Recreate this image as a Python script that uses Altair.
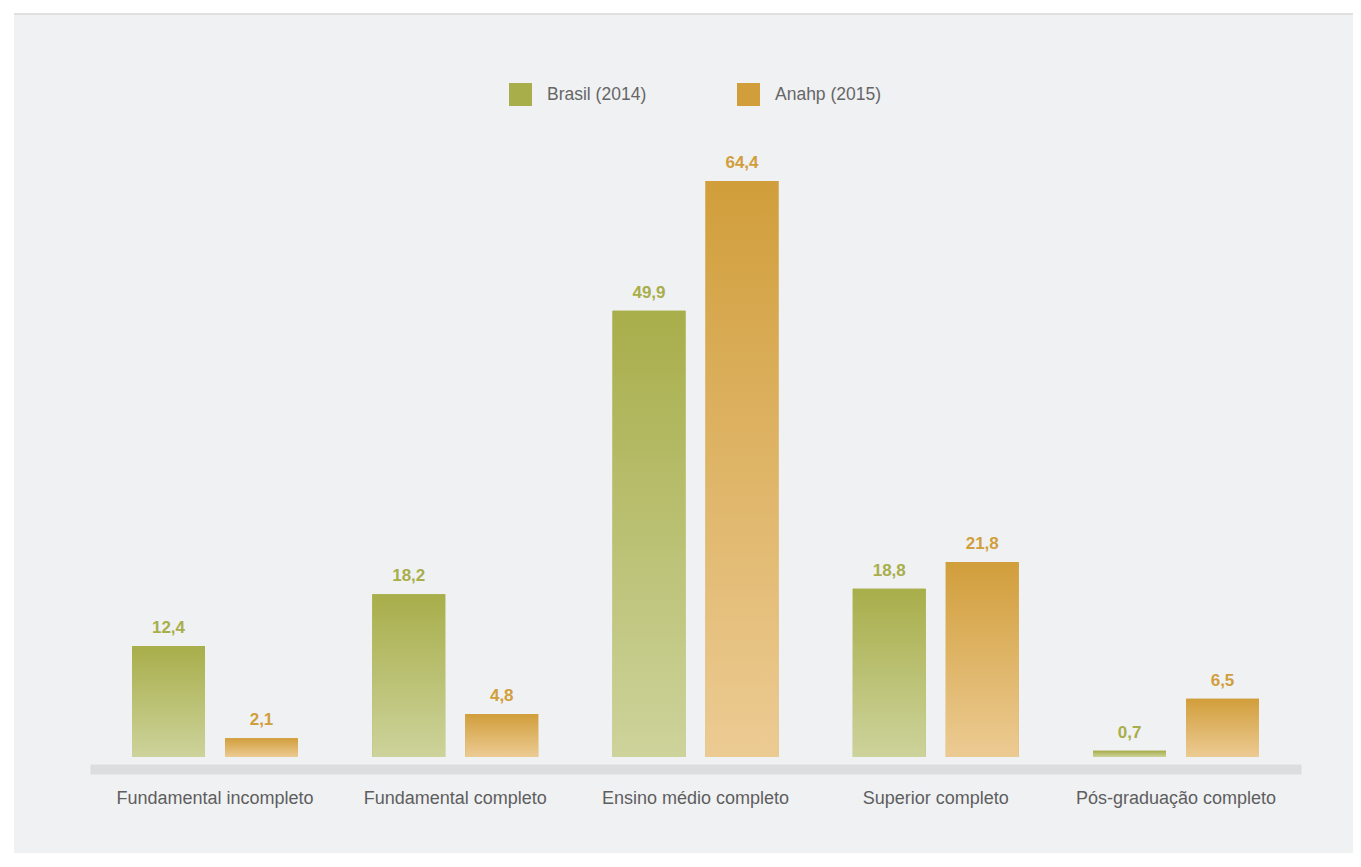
import altair as alt
import pandas as pd

categories = ["Fundamental incompleto", "Fundamental completo", "Ensino médio completo",
              "Superior completo", "Pós-graduação completo"]
series = ["Brasil (2014)", "Anahp (2015)"]
brasil = [12.4, 18.2, 49.9, 18.8, 0.7]
anahp = [2.1, 4.8, 64.4, 21.8, 6.5]

rows = []
for c, b, a in zip(categories, brasil, anahp):
    rows.append({"cat": c, "serie": series[0], "v": b})
    rows.append({"cat": c, "serie": series[1], "v": a})
df = pd.DataFrame(rows)

GREEN = "#a8ae4a"
ORANGE = "#d19e3b"
W, H = 1339, 838

xenc = alt.X("cat:N", sort=categories, title=None,
             scale=alt.Scale(range=[76, 1287], paddingInner=0.3091, paddingOuter=0.1748),
             axis=alt.Axis(domain=True, domainColor="#dcdddf", domainWidth=10, offset=-84,
                           ticks=False, tickSize=0, labelPadding=20, labelAngle=0,
                           labelLimit=0, labelFont="Liberation Sans", labelFontSize=18,
                           labelColor="#5e5e5e", labelBaseline="top", grid=False))
xoff = alt.XOffset("serie:N", sort=series, scale=alt.Scale(paddingInner=0.215, paddingOuter=0))
yenc = alt.Y("v:Q", scale=alt.Scale(domain=[-10.733, 82.96], nice=False, zero=False), axis=None)
cenc = alt.Color("serie:N", sort=series,
                 scale=alt.Scale(domain=series, range=[GREEN, ORANGE]),
                 legend=alt.Legend(title=None, orient="none", legendX=495, legendY=68,
                                   direction="horizontal", symbolType="square", symbolSize=529,
                                   symbolStrokeWidth=0, labelFont="Liberation Sans",
                                   labelFontSize=17.5, labelColor="#666666", labelOffset=15,
                                   columnPadding=90, padding=0, offset=0))

base = alt.Chart(df)

solid = base.mark_bar().encode(x=xenc, xOffset=xoff, y=yenc, y2=alt.datum(0), color=cenc)

def grad(top, bottom):
    return alt.Gradient(gradient="linear", x1=0, x2=0, y1=0, y2=1,
                        stops=[alt.GradientStop(color=top, offset=0),
                               alt.GradientStop(color=bottom, offset=1)])

g1 = base.transform_filter(alt.datum.serie == series[0]).mark_bar(
    fill=grad(GREEN, "#cdd39b")).encode(x=xenc, xOffset=xoff, y=yenc, y2=alt.datum(0))
g2 = base.transform_filter(alt.datum.serie == series[1]).mark_bar(
    fill=grad(ORANGE, "#eccb93")).encode(x=xenc, xOffset=xoff, y=yenc, y2=alt.datum(0))

labels = base.transform_calculate(
    lab="replace(format(datum.v, '.1f'), '.', ',')"
).mark_text(baseline="alphabetic", dy=-13, font="Liberation Sans",
            fontWeight="bold", fontSize=17).encode(
    x=xenc, xOffset=xoff, y=yenc, text="lab:N", color=cenc)

topline = alt.Chart(pd.DataFrame({"a": [0]})).mark_rule(color="#d6d6d6", strokeWidth=1.5).encode(
    x=alt.value(0), x2=alt.value(W), y=alt.value(-1))

chart = alt.layer(solid, g1, g2, labels, topline).properties(
    width=W, height=H, autosize=alt.AutoSizeParams(type="none"),
    padding={"left": 6, "top": 7, "right": 0, "bottom": 0},
    background="white"
).configure_view(fill="#f0f1f3", stroke=None)

chart.save("out.html", embed_options={"renderer": "svg", "actions": False})
